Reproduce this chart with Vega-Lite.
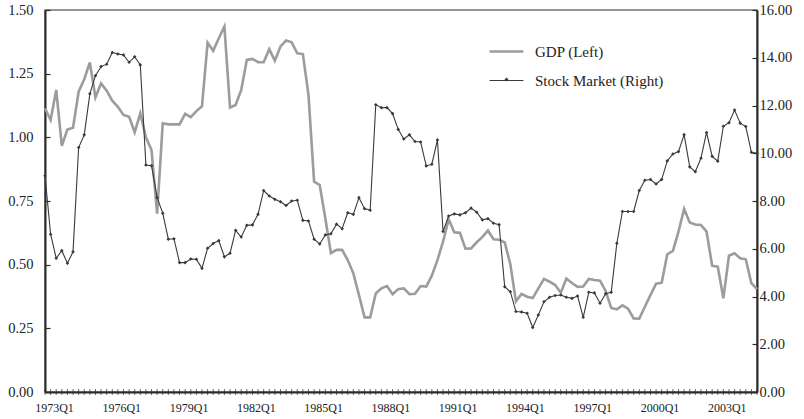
{
  "$schema": "https://vega.github.io/schema/vega-lite/v6.json",
  "width": 712,
  "height": 382,
  "autosize": {"type": "none"},
  "padding": {"left": 45, "top": 10, "right": 47, "bottom": 27},
  "background": "white",
  "config": {"view": {"stroke": "#707070", "strokeWidth": 1.5}, "font": "Liberation Serif"},
  "data": {"values": [
    {"i":0,"gdp":1.114,"stock":9.06},{"i":1,"gdp":1.068,"stock":6.61},{"i":2,"gdp":1.186,"stock":5.60},{"i":3,"gdp":0.967,"stock":5.92},
    {"i":4,"gdp":1.031,"stock":5.39},{"i":5,"gdp":1.038,"stock":5.87},{"i":6,"gdp":1.179,"stock":10.24},{"i":7,"gdp":1.228,"stock":10.77},
    {"i":8,"gdp":1.294,"stock":12.49},{"i":9,"gdp":1.157,"stock":13.25},{"i":10,"gdp":1.212,"stock":13.63},{"i":11,"gdp":1.183,"stock":13.73},
    {"i":12,"gdp":1.144,"stock":14.22},{"i":13,"gdp":1.120,"stock":14.16},{"i":14,"gdp":1.088,"stock":14.12},{"i":15,"gdp":1.081,"stock":13.81},
    {"i":16,"gdp":1.020,"stock":14.04},{"i":17,"gdp":1.094,"stock":13.70},{"i":18,"gdp":1.000,"stock":9.51},{"i":19,"gdp":0.950,"stock":9.48},
    {"i":20,"gdp":0.700,"stock":8.14},{"i":21,"gdp":1.055,"stock":7.49},{"i":22,"gdp":1.051,"stock":6.40},{"i":23,"gdp":1.051,"stock":6.42},
    {"i":24,"gdp":1.051,"stock":5.42},{"i":25,"gdp":1.092,"stock":5.42},{"i":26,"gdp":1.079,"stock":5.57},{"i":27,"gdp":1.103,"stock":5.56},
    {"i":28,"gdp":1.122,"stock":5.18},{"i":29,"gdp":1.372,"stock":6.02},{"i":30,"gdp":1.340,"stock":6.22},{"i":31,"gdp":1.389,"stock":6.34},
    {"i":32,"gdp":1.435,"stock":5.66},{"i":33,"gdp":1.117,"stock":5.81},{"i":34,"gdp":1.127,"stock":6.77},{"i":35,"gdp":1.186,"stock":6.49},
    {"i":36,"gdp":1.304,"stock":6.98},{"i":37,"gdp":1.308,"stock":7.00},{"i":38,"gdp":1.295,"stock":7.44},{"i":39,"gdp":1.295,"stock":8.44},
    {"i":40,"gdp":1.346,"stock":8.21},{"i":41,"gdp":1.301,"stock":8.07},{"i":42,"gdp":1.357,"stock":7.97},{"i":43,"gdp":1.380,"stock":7.81},
    {"i":44,"gdp":1.373,"stock":8.00},{"i":45,"gdp":1.330,"stock":8.03},{"i":46,"gdp":1.327,"stock":7.19},{"i":47,"gdp":1.166,"stock":7.16},
    {"i":48,"gdp":0.826,"stock":6.40},{"i":49,"gdp":0.813,"stock":6.20},{"i":50,"gdp":0.682,"stock":6.58},{"i":51,"gdp":0.545,"stock":6.63},
    {"i":52,"gdp":0.558,"stock":7.03},{"i":53,"gdp":0.558,"stock":6.84},{"i":54,"gdp":0.518,"stock":7.51},{"i":55,"gdp":0.466,"stock":7.44},
    {"i":56,"gdp":0.381,"stock":8.14},{"i":57,"gdp":0.293,"stock":7.68},{"i":58,"gdp":0.293,"stock":7.61},{"i":59,"gdp":0.387,"stock":12.03},
    {"i":60,"gdp":0.407,"stock":11.91},{"i":61,"gdp":0.416,"stock":11.91},{"i":62,"gdp":0.384,"stock":11.66},{"i":63,"gdp":0.404,"stock":11.00},
    {"i":64,"gdp":0.407,"stock":10.60},{"i":65,"gdp":0.384,"stock":10.77},{"i":66,"gdp":0.386,"stock":10.49},{"i":67,"gdp":0.416,"stock":10.47},
    {"i":68,"gdp":0.414,"stock":9.47},{"i":69,"gdp":0.457,"stock":9.54},{"i":70,"gdp":0.518,"stock":10.56},{"i":71,"gdp":0.590,"stock":6.72},
    {"i":72,"gdp":0.678,"stock":7.37},{"i":73,"gdp":0.627,"stock":7.46},{"i":74,"gdp":0.625,"stock":7.42},{"i":75,"gdp":0.563,"stock":7.51},
    {"i":76,"gdp":0.564,"stock":7.70},{"i":77,"gdp":0.588,"stock":7.53},{"i":78,"gdp":0.608,"stock":7.21},{"i":79,"gdp":0.634,"stock":7.26},
    {"i":80,"gdp":0.600,"stock":7.07},{"i":81,"gdp":0.598,"stock":7.01},{"i":82,"gdp":0.587,"stock":4.41},{"i":83,"gdp":0.502,"stock":4.20},
    {"i":84,"gdp":0.356,"stock":3.37},{"i":85,"gdp":0.385,"stock":3.35},{"i":86,"gdp":0.374,"stock":3.30},{"i":87,"gdp":0.369,"stock":2.70},
    {"i":88,"gdp":0.407,"stock":3.23},{"i":89,"gdp":0.444,"stock":3.78},{"i":90,"gdp":0.433,"stock":3.97},{"i":91,"gdp":0.420,"stock":4.04},
    {"i":92,"gdp":0.390,"stock":4.06},{"i":93,"gdp":0.445,"stock":3.97},{"i":94,"gdp":0.428,"stock":3.92},{"i":95,"gdp":0.413,"stock":4.02},
    {"i":96,"gdp":0.414,"stock":3.13},{"i":97,"gdp":0.444,"stock":4.18},{"i":98,"gdp":0.440,"stock":4.15},{"i":99,"gdp":0.437,"stock":3.72},
    {"i":100,"gdp":0.397,"stock":4.12},{"i":101,"gdp":0.330,"stock":4.18},{"i":102,"gdp":0.325,"stock":6.23},{"i":103,"gdp":0.340,"stock":7.56},
    {"i":104,"gdp":0.327,"stock":7.56},{"i":105,"gdp":0.289,"stock":7.56},{"i":106,"gdp":0.288,"stock":8.44},{"i":107,"gdp":0.335,"stock":8.87},
    {"i":108,"gdp":0.381,"stock":8.90},{"i":109,"gdp":0.425,"stock":8.71},{"i":110,"gdp":0.429,"stock":8.90},{"i":111,"gdp":0.541,"stock":9.68},
    {"i":112,"gdp":0.554,"stock":9.97},{"i":113,"gdp":0.630,"stock":10.07},{"i":114,"gdp":0.719,"stock":10.78},{"i":115,"gdp":0.666,"stock":9.43},
    {"i":116,"gdp":0.658,"stock":9.23},{"i":117,"gdp":0.656,"stock":9.79},{"i":118,"gdp":0.630,"stock":10.87},{"i":119,"gdp":0.496,"stock":9.87},
    {"i":120,"gdp":0.492,"stock":9.67},{"i":121,"gdp":0.368,"stock":11.13},{"i":122,"gdp":0.535,"stock":11.28},{"i":123,"gdp":0.545,"stock":11.81},
    {"i":124,"gdp":0.525,"stock":11.26},{"i":125,"gdp":0.521,"stock":11.12},{"i":126,"gdp":0.427,"stock":10.04},{"i":127,"gdp":0.404,"stock":10.00}
  ]},
  "layer": [
    {
      "mark": {"type": "line", "strokeWidth": 2.6},
      "encoding": {
        "x": {"field": "i", "type": "quantitative",
          "scale": {"domain": [0, 127], "nice": false, "zero": false},
          "axis": {"title": null, "values": [0,12,24,36,48,60,72,84,96,108,120],
            "labelExpr": "(floor(datum.value/4)+1973) + 'Q1'",
            "ticks": false, "grid": false, "domainColor": "#2b2b2b", "domainWidth": 2,
            "labelFont": "Liberation Serif", "labelFontSize": 12, "labelColor": "#222222",
            "labelOffset": 9, "labelPadding": 10, "labelFlush": false, "labelOverlap": false}},
        "y": {"field": "gdp", "type": "quantitative",
          "scale": {"domain": [0, 1.5], "nice": false},
          "axis": {"orient": "left", "title": null, "values": [0,0.25,0.5,0.75,1,1.25,1.5], "format": ".2f",
            "grid": false, "tickSize": -5, "tickColor": "#2b2b2b", "tickWidth": 1.2,
            "domainColor": "#2b2b2b", "domainWidth": 2,
            "labelFont": "Liberation Serif", "labelFontSize": 14.5, "labelColor": "#222222", "labelPadding": 17}},
        "color": {"datum": "GDP (Left)",
          "scale": {"domain": ["GDP (Left)", "Stock Market (Right)"], "range": ["#9c9c9c", "#3a3a3a"]},
          "legend": {"title": null, "orient": "none", "legendX": 454, "legendY": 34, "padding": 0,
            "symbolType": "stroke", "symbolSize": 1150, "rowPadding": 13, "labelOffset": 21,
            "labelFont": "Liberation Serif", "labelFontSize": 15, "labelColor": "#222222",
            "encode": {"symbols": {"update": {"strokeWidth": {"signal": "datum.value == 'GDP (Left)' ? 2.6 : 1.2"}}}}}}
      }
    },
    {
      "mark": {"type": "tick", "orient": "vertical", "size": 6, "thickness": 1, "color": "#2b2b2b"},
      "encoding": {
        "x": {"field": "i", "type": "quantitative"},
        "y": {"datum": 0, "type": "quantitative", "scale": {"domain": [0, 1.5], "nice": false}, "axis": null}
      }
    },
    {
      "mark": {"type": "line", "strokeWidth": 1.1},
      "encoding": {
        "x": {"field": "i", "type": "quantitative"},
        "y": {"field": "stock", "type": "quantitative",
          "scale": {"domain": [0, 16], "nice": false},
          "axis": {"orient": "right", "title": null, "values": [0,2,4,6,8,10,12,14,16], "format": ".2f",
            "grid": false, "tickSize": -5, "tickColor": "#2b2b2b", "tickWidth": 1.2,
            "domainColor": "#2b2b2b", "domainWidth": 2,
            "labelFont": "Liberation Serif", "labelFontSize": 14.5, "labelColor": "#222222", "labelPadding": 7}},
        "color": {"datum": "Stock Market (Right)"}
      }
    },
    {
      "mark": {"type": "point", "filled": true, "size": 13, "color": "#3a3a3a", "opacity": 1},
      "encoding": {
        "x": {"field": "i", "type": "quantitative"},
        "y": {"field": "stock", "type": "quantitative", "scale": {"domain": [0, 16], "nice": false}, "axis": null},
        "shape": {"datum": "Stock Market (Right)", "scale": {"range": ["diamond"]},
          "legend": {"title": null, "orient": "none", "legendX": 454, "legendY": 62, "padding": 0,
            "symbolSize": 16, "symbolFillColor": "#3a3a3a", "symbolStrokeWidth": 0,
            "labelFontSize": 15, "labelExpr": "''"}}
      }
    }
  ],
  "resolve": {"scale": {"y": "independent"}}
}
